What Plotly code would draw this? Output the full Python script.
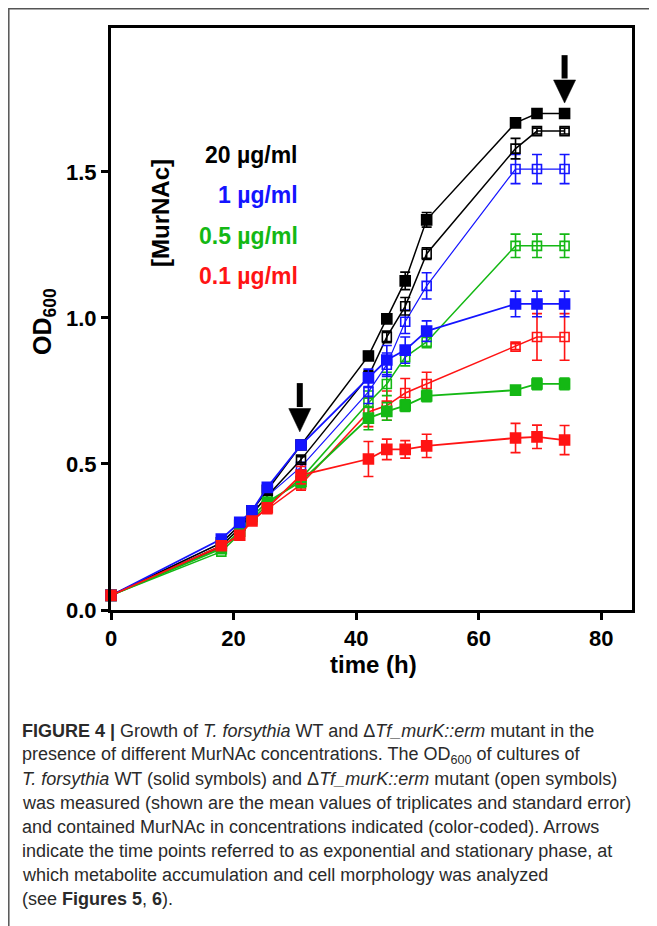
import plotly.graph_objects as go

# ---------------- data ----------------
time_h = [0, 18, 21, 23, 25.5, 31, 42, 45, 48, 51.5, 66, 69.5, 74]

wt_20 = [0.05, 0.23, 0.29, 0.34, 0.41, 0.565, 0.87, 0.997, 1.127, 1.336, 1.668, 1.70, 1.70]
wt_20_err = [0.005, 0.005, 0.01, 0.01, 0.01, 0.01, 0.015, 0.015, 0.03, 0.025, 0.015, 0.01, 0.01]
mut_20 = [0.05, 0.22, 0.28, 0.33, 0.39, 0.515, 0.80, 0.935, 1.04, 1.22, 1.58, 1.64, 1.64]
mut_20_err = [0.005, 0.005, 0.01, 0.01, 0.01, 0.01, 0.02, 0.02, 0.03, 0.02, 0.035, 0.01, 0.01]

wt_1 = [0.05, 0.243, 0.30, 0.34, 0.42, 0.565, 0.795, 0.856, 0.89, 0.955, 1.048, 1.048, 1.048]
wt_1_err = [0.005, 0.005, 0.01, 0.01, 0.01, 0.01, 0.03, 0.05, 0.045, 0.035, 0.044, 0.044, 0.044]
mut_1 = [0.05, 0.23, 0.29, 0.33, 0.39, 0.49, 0.747, 0.84, 0.987, 1.11, 1.51, 1.51, 1.51]
mut_1_err = [0.005, 0.005, 0.01, 0.01, 0.01, 0.01, 0.04, 0.04, 0.04, 0.045, 0.05, 0.05, 0.05]

wt_05 = [0.05, 0.21, 0.27, 0.32, 0.37, 0.44, 0.657, 0.68, 0.70, 0.733, 0.753, 0.774, 0.774]
wt_05_err = [0.005, 0.005, 0.01, 0.01, 0.01, 0.02, 0.04, 0.03, 0.02, 0.02, 0.01, 0.02, 0.02]
mut_05 = [0.05, 0.20, 0.26, 0.31, 0.36, 0.45, 0.71, 0.774, 0.866, 0.918, 1.247, 1.247, 1.247]
mut_05_err = [0.005, 0.005, 0.01, 0.01, 0.01, 0.02, 0.04, 0.04, 0.03, 0.02, 0.04, 0.04, 0.04]

wt_01 = [0.05, 0.22, 0.256, 0.305, 0.35, 0.462, 0.517, 0.55, 0.55, 0.562, 0.589, 0.593, 0.582]
wt_01_err = [0.005, 0.005, 0.01, 0.01, 0.01, 0.03, 0.06, 0.035, 0.03, 0.04, 0.05, 0.04, 0.05]
mut_01 = [0.05, 0.215, 0.26, 0.31, 0.345, 0.43, 0.678, 0.70, 0.743, 0.774, 0.902, 0.935, 0.935]
mut_01_err = [0.005, 0.005, 0.01, 0.01, 0.01, 0.02, 0.05, 0.05, 0.05, 0.04, 0.01, 0.08, 0.08]

x_ticks = [0, 20, 40, 60, 80]
y_ticks = [0, 0.5, 1.0, 1.5]
y_tick_text = ["0.0", "0.5", "1.0", "1.5"]

legend_labels = ["20 \u00b5g/ml", "1 \u00b5g/ml", "0.5 \u00b5g/ml", "0.1 \u00b5g/ml"]

BLACK, BLUE, GREEN, RED = "#000000", "#1414ff", "#14b814", "#ff1414"

caption_lines = [
    "<b>FIGURE 4 |</b> Growth of <i>T. forsythia</i> WT and \u0394<i>Tf_murK::erm</i> mutant in the",
    "presence of different MurNAc concentrations. The OD<sub>600</sub> of cultures of",
    "<i>T. forsythia</i> WT (solid symbols) and \u0394<i>Tf_murK::erm</i> mutant (open symbols)",
    "was measured (shown are the mean values of triplicates and standard error)",
    "and contained MurNAc in concentrations indicated (color-coded). Arrows",
    "indicate the time points referred to as exponential and stationary phase, at",
    "which metabolite accumulation and cell morphology was analyzed",
    "(see <b>Figures 5</b>, <b>6</b>).",
]

# ---------------- layout geometry (page pixels) ----------------
W, H = 657, 926
OFF = 8  # browser body margin
L, R, T, B = 111, 632, 28, 610


def px(x):
    return (x - L) / (R - L)


def py(y):
    return (B - y) / (B - T)


fig = go.Figure()


def add_series(y, err, color, filled, lw):
    fig.add_trace(go.Scatter(
        x=time_h, y=y, mode="lines+markers",
        line=dict(color=color, width=lw),
        marker=dict(symbol="square" if filled else "square-open", size=10 if filled else 9,
                    color=color, line=dict(color=color, width=1.6)),
        error_y=dict(type="data", array=err, visible=True, color=color, thickness=1.6, width=5),
        cliponaxis=False, showlegend=False,
    ))


add_series(mut_01, mut_01_err, RED, False, 1.5)
add_series(mut_05, mut_05_err, GREEN, False, 1.5)
add_series(mut_1, mut_1_err, BLUE, False, 1.2)
add_series(mut_20, mut_20_err, BLACK, False, 1.5)
add_series(wt_20, wt_20_err, BLACK, True, 1.5)
add_series(wt_05, wt_05_err, GREEN, True, 1.8)
add_series(wt_1, wt_1_err, BLUE, True, 1.8)
add_series(wt_01, wt_01_err, RED, True, 1.8)

FAM = "Liberation Sans, Arial, sans-serif"
tickfont = dict(family=FAM, size=22, color="black", weight="bold")

fig.update_layout(
    width=W - OFF, height=H - OFF,
    margin=dict(l=L - OFF, r=W - R, t=T - OFF, b=H - B, pad=0),
    paper_bgcolor="white", plot_bgcolor="white",
    xaxis=dict(range=[0, 85], tickvals=x_ticks, ticks="outside", ticklen=7, tickwidth=3,
               tickcolor="black", showline=True, linewidth=3, linecolor="black", mirror=True,
               showgrid=False, zeroline=False, tickfont=tickfont),
    yaxis=dict(range=[0, 1.993], tickvals=y_ticks, ticktext=y_tick_text, ticks="outside",
               ticklen=7, tickwidth=3, tickcolor="black", showline=True, linewidth=3,
               linecolor="black", mirror=True, showgrid=False, zeroline=False, tickfont=tickfont),
    font=dict(family=FAM, size=14, color="black"),
)

annotations = []
annotations.append(dict(text="<b>time (h)</b>", x=px(373), y=py(664), xref="paper", yref="paper",
                        showarrow=False, xanchor="center", yanchor="middle",
                        font=dict(family=FAM, size=24, color="black")))
annotations.append(dict(text="<b>OD<sub>600</sub></b>", x=px(44), y=py(322), xref="paper", yref="paper",
                        showarrow=False, xanchor="center", yanchor="middle", textangle=-90,
                        font=dict(family=FAM, size=25, color="black")))
annotations.append(dict(text="<b>[MurNAc]</b>", x=px(160), y=py(213), xref="paper", yref="paper",
                        showarrow=False, xanchor="center", yanchor="middle", textangle=-90,
                        font=dict(family=FAM, size=24, color="black")))
for lab, col, yy in zip(legend_labels, [BLACK, BLUE, GREEN, RED], [155, 195, 236, 276]):
    annotations.append(dict(text="<b>" + lab + "</b>", x=px(300), y=py(yy), xref="paper", yref="paper",
                            showarrow=False, xanchor="right", yanchor="middle",
                            font=dict(family=FAM, size=23, color=col)))
for i, line in enumerate(caption_lines):
    annotations.append(dict(text=line, x=px(20), y=py(731 + 24 * i), xref="paper", yref="paper",
                            showarrow=False, xanchor="left", yanchor="middle", align="left",
                            font=dict(family=FAM, size=18, color="#2a2a2a")))
fig.update_layout(annotations=annotations)

shapes = []
arrow_specs = [(30.8, 0.61, 0.69, 0.777), (74.0, 1.736, 1.815, 1.9)]
hw = 1.8
for ax_x, tip, base, top in arrow_specs:
    shapes.append(dict(type="line", xref="x", yref="y", x0=ax_x, x1=ax_x, y0=base + 0.005, y1=top,
                       line=dict(color="black", width=6)))
    shapes.append(dict(type="path", xref="x", yref="y",
                       path=f"M {ax_x - hw} {base} L {ax_x + hw} {base} L {ax_x} {tip} Z",
                       fillcolor="black", line=dict(color="black", width=0.5)))
shapes.append(dict(type="rect", xref="paper", yref="paper", x0=px(8.8), x1=px(700), y0=py(1000), y1=py(8.8),
                   line=dict(color="#555555", width=1.5), fillcolor="rgba(0,0,0,0)", layer="below"))
fig.update_layout(shapes=shapes)

fig.write_html("out.html")
